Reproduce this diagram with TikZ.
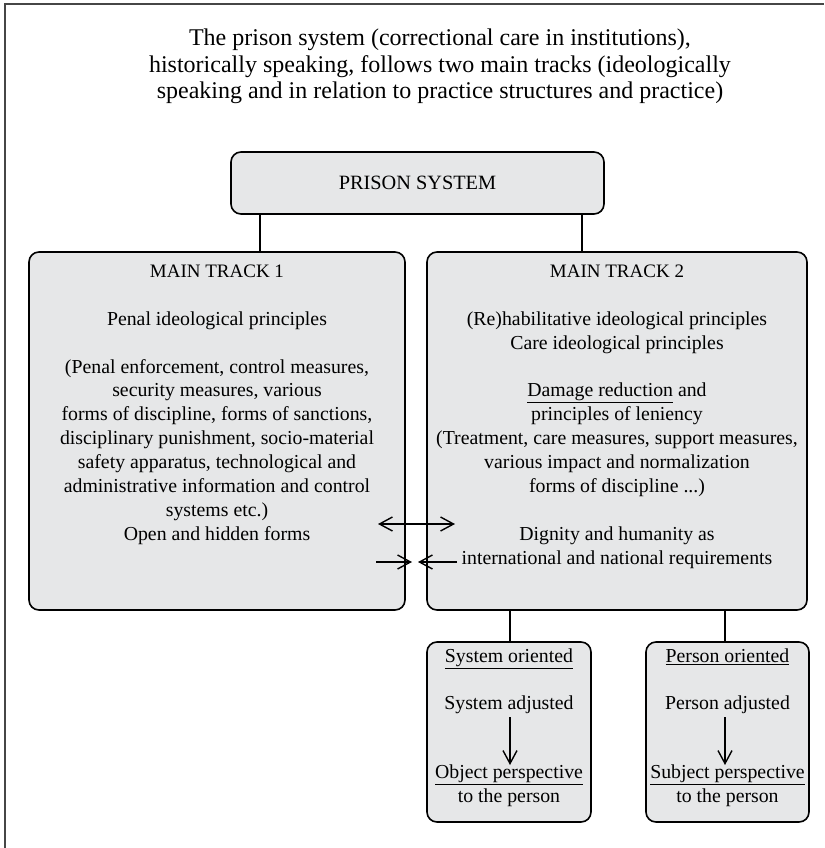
\documentclass[tikz,border=0pt]{standalone}
\usepackage{fontspec}
\setmainfont{Liberation Serif}
\usetikzlibrary{arrows.meta}
\definecolor{boxgrey}{RGB}{230,231,232}
\definecolor{framegrey}{RGB}{70,70,70}
\newcommand{\headsize}{\fontsize{19}{23.9}\selectfont}
\begin{document}
\begin{tikzpicture}[x=1pt,y=-1pt,
  box/.style={draw=black, line width=1.6pt, rounded corners=10pt, fill=boxgrey, inner sep=0pt},
  txt/.style={align=center, font=\fontsize{19.8}{23.9}\selectfont, inner sep=0pt},
  link/.style={line width=1.3pt},
  tip/.style={Straight Barb[length=13pt,width=14pt,line width=1.4pt]},
  arr/.style={line width=1.4pt, -{Straight Barb[length=13pt,width=14pt,line width=1.4pt]}},
  darr/.style={line width=1.4pt, {Straight Barb[length=13pt,width=14pt,line width=1.4pt]}-{Straight Barb[length=13pt,width=14pt,line width=1.4pt]}},
]
\useasboundingbox (0,0) rectangle (824,848);

% outer frame (top and left edges)
\draw[line width=2pt, framegrey] (5,848) -- (5,4) -- (824,4);

% heading
\node[txt, font=\fontsize{24}{26.3}\selectfont, anchor=north] (title) at (440,29)
  {The prison system (correctional care in institutions),\\
   historically speaking, follows two main tracks (ideologically\\
   speaking and in relation to practice structures and practice)};

% boxes
\node[box, minimum width=373pt, minimum height=62pt, font=\fontsize{20.3}{25}\selectfont] (ps) at (417.5,183) {PRISON SYSTEM};
\node[box, minimum width=376pt, minimum height=358pt] (mt1) at (217,431) {};
\node[box, minimum width=380pt, minimum height=358pt] (mt2) at (617,431) {};
\node[box, minimum width=164pt, minimum height=180pt] (so) at (509,732) {};
\node[box, minimum width=163pt, minimum height=180pt] (po) at (727.5,732) {};

% box contents
\node[txt, anchor=north] (t1) at ([yshift=-13.5pt]mt1.north)
  {{\headsize MAIN TRACK 1}\\[23.9pt]
   Penal ideological principles\\[23.9pt]
   (Penal enforcement, control measures,\\
   security measures, various\\
   forms of discipline, forms of sanctions,\\
   disciplinary punishment, socio-material\\
   safety apparatus, technological and\\
   administrative information and control\\
   systems etc.)\\
   Open and hidden forms};
\node[txt, anchor=north] (t2) at ([yshift=-13.5pt]mt2.north)
  {{\headsize MAIN TRACK 2}\\[23.9pt]
   (Re)habilitative ideological principles\\
   Care ideological principles\\[23.9pt]
   \underline{Damage reduction} and\\
   principles of leniency\\
   (Treatment, care measures, support measures,\\
   various impact and normalization\\
   forms of discipline ...)\\[23.9pt]
   Dignity and humanity as\\
   international and national requirements};

\node[txt, anchor=north] (so1) at ([yshift=-7pt]so.north)
  {\underline{System oriented}\\[23.9pt] System adjusted};
\node[txt, anchor=north] (so2) at (509,765)
  {\underline{Object perspective}\\ to the person};
\node[txt, anchor=north] (po1) at ([yshift=-7pt]po.north)
  {\underline{Person oriented}\\[23.9pt] Person adjusted};
\node[txt, anchor=north] (po2) at (727.5,765)
  {\underline{Subject perspective}\\ to the person};

% connectors
\coordinate (k1) at (260,0);
\coordinate (k2) at (582,0);
\coordinate (k3) at (510,0);
\coordinate (k4) at (725,0);
\draw[link] (ps.south -| k1) -- (mt1.north -| k1);
\draw[link] (ps.south -| k2) -- (mt2.north -| k2);
\draw[link] (mt2.south -| k3) -- (so.north -| k3);
\draw[link] (mt2.south -| k4) -- (po.north -| k4);

% arrows inside the lower boxes
\draw[arr] (so1.south -| k3) ++(0,3) -- (so2.north -| k3);
\draw[arr] (po1.south -| k4) ++(0,3) -- (po2.north -| k4);

% arrows between the two main tracks
\coordinate (a1) at (378,524);
\coordinate (a2) at (455,524);
\coordinate (b1) at (376,562);
\coordinate (b2) at (412,562);
\coordinate (b3) at (457,562);
\coordinate (b4) at (418,562);
\draw[darr] (a1) -- (a2);
\draw[arr] (b1) -- (b2);
\draw[arr] (b3) -- (b4);
\end{tikzpicture}
\end{document}
